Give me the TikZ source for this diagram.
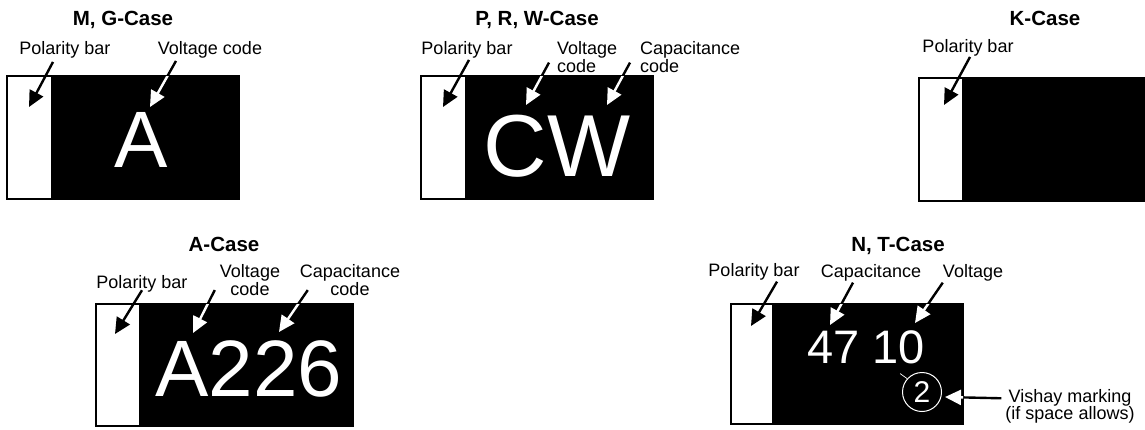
\documentclass[tikz,border=0pt]{standalone}
\usepackage{fontspec}
\setmainfont{Liberation Sans}
\usetikzlibrary{arrows.meta}

% all arrows, drawn once in black and once in white inside the dark parts
\newcommand{\markarrows}[1]{%
\draw[pointer,#1] ([xshift=-12pt,yshift=-3pt]pol1.south) -- (pol1t);
\draw[pointer,#1] ([xshift=-34pt,yshift=-2pt]volt1.south) -- (volt1t);
\draw[pointer,#1] ([xshift=2pt,yshift=-1pt]pol2.south) -- (pol2t);
\draw[pointer,#1] ([xshift=-7pt,yshift=-5.5pt]volt2.west) -- (volt2t);
\draw[pointer,#1] ([xshift=-9pt,yshift=-5.5pt]cap2.west) -- (cap2t);
\draw[pointer,#1] ([xshift=2pt]pol3.south) -- (pol3t);
\draw[pointer,#1] ([yshift=3pt]pol4.south) -- (pol4t);
\draw[pointer,#1] ([xshift=-4pt,yshift=-10pt]volt4.west) -- (volt4t);
\draw[pointer,#1] ([xshift=9pt,yshift=-10pt]cap4.west) -- (cap4t);
\draw[pointer,#1] ([xshift=23pt]pol5.south) -- (pol5t);
\draw[pointer,#1] ([xshift=-18pt]cap5.south) -- (cap5t);
\draw[pointer,#1] ([xshift=1pt]volt5.south west) -- (volt5t);
\draw[pointer,#1] ([xshift=-3pt,yshift=8pt]vish.west) -- (vish2t);
}

\begin{document}
\begin{tikzpicture}[x=1pt,y=-1pt,
    chipbar/.style={draw,fill=white,line width=1.3pt,inner sep=0pt,outer sep=0pt,anchor=north west},
    chipbody/.style={draw,fill=black,line width=1.3pt,inner sep=0pt,outer sep=0pt,anchor=north west},
    casetitle/.style={font=\fontsize{20.5}{20.5}\selectfont\bfseries,anchor=base,inner sep=0pt},
    partlabel/.style={font=\fontsize{18}{15}\selectfont,inner sep=1pt},
    bigmark/.style={text=white,anchor=base,inner sep=0pt},
    pointer/.style={line width=2.4pt,-{Triangle[length=16pt,width=15pt]}}]

\useasboundingbox (0,0) rectangle (1145,429);

%M, G=================================================================
\node[chipbar,minimum width=45pt,minimum height=123pt] (mgbar) at (7,76) {};
\node[chipbody,minimum width=187pt,minimum height=123pt] (mgbody) at (52,76) {};
\node[casetitle] (mgtitle) at (123,25) {M, G-Case};
\node[partlabel,anchor=base] (pol1) at (65,54) {Polarity bar};
\node[partlabel,anchor=base] (volt1) at (210,54) {Voltage code};
\node[bigmark,font=\fontsize{80}{80}\selectfont] (mgmark) at (141,167) {A};
\coordinate (pol1t) at (29,107);
\coordinate (volt1t) at (150,107);

%P, R, W==============================================================
\node[chipbar,minimum width=45pt,minimum height=123pt] (prwbar) at (421,76) {};
\node[chipbody,minimum width=187pt,minimum height=123pt] (prwbody) at (466,76) {};
\node[casetitle] (prwtitle) at (537,25) {P, R, W-Case};
\node[partlabel,anchor=base] (pol2) at (467,54) {Polarity bar};
\node[partlabel,anchor=north west,align=left] (volt2) at (556,40.4) {Voltage\\code};
\node[partlabel,anchor=north west,align=left] (cap2) at (639,40.4) {Capacitance\\code};
\node[bigmark,font=\fontsize{88}{88}\selectfont] (prwmark) at (557,176) {CW};
\coordinate (pol2t) at (443,107);
\coordinate (volt2t) at (526,105);
\coordinate (cap2t) at (607,105);

%K====================================================================
\node[chipbar,minimum width=44pt,minimum height=123pt] (kbar) at (919,78) {};
\node[chipbody,minimum width=190pt,minimum height=123pt] (kbody) at (963,78) {};
\node[casetitle] (ktitle) at (1045,25) {K-Case};
\node[partlabel,anchor=base] (pol3) at (968,52) {Polarity bar};
\coordinate (pol3t) at (944,105);

%A====================================================================
\node[chipbar,minimum width=44pt,minimum height=122pt] (abar) at (96,304) {};
\node[chipbody,minimum width=213pt,minimum height=122pt] (abody) at (140,304) {};
\node[casetitle] (atitle) at (224,251) {A-Case};
\node[partlabel,anchor=base] (pol4) at (142,288.3) {Polarity bar};
\node[partlabel,anchor=north,align=center] (volt4) at (250,263.4) {Voltage\\code};
\node[partlabel,anchor=north,align=center] (cap4) at (350,263.4) {Capacitance\\code};
\node[bigmark,font=\fontsize{80}{80}\selectfont] (amark) at (249,396) {A226};
\coordinate (pol4t) at (115,334);
\coordinate (volt4t) at (193,333);
\coordinate (cap4t) at (279,332);

%N, T=================================================================
\node[chipbar,minimum width=42pt,minimum height=120pt] (ntbar) at (731,304) {};
\node[chipbody,minimum width=190pt,minimum height=120pt] (ntbody) at (773,304) {};
\node[casetitle] (nttitle) at (898,251) {N, T-Case};
\node[partlabel,anchor=base] (pol5) at (754,276.7) {Polarity bar};
\node[partlabel,anchor=base] (cap5) at (871,277.7) {Capacitance};
\node[partlabel,anchor=base] (volt5) at (973,277.7) {Voltage};
\node[bigmark,font=\fontsize{47}{47}\selectfont] (ntmark) at (866,363) {47 10};
\node[circle,draw=white,line width=1pt,text=white,inner sep=0pt,minimum size=39pt,
      font=\fontsize{30}{30}\selectfont] (vm) at (922,392) {2};
\draw[white,line width=0.7pt] (vm.138) -- ++(-7,-5);
\node[partlabel,anchor=north,align=center] (vish) at (1070,387.8) {Vishay marking\\(if space allows)};
\coordinate (pol5t) at (751,326);
\coordinate (cap5t) at (830,325);
\coordinate (volt5t) at (915,323);
\coordinate (vish2t) at (945,397);

%arrows================================================================
\markarrows{black}
\begin{scope}
\clip (mgbody.north west) rectangle (mgbody.south east)
      (prwbody.north west) rectangle (prwbody.south east)
      (kbody.north west) rectangle (kbody.south east)
      (abody.north west) rectangle (abody.south east)
      (ntbody.north west) rectangle (ntbody.south east);
\markarrows{white}
\end{scope}

\end{tikzpicture}
\end{document}
